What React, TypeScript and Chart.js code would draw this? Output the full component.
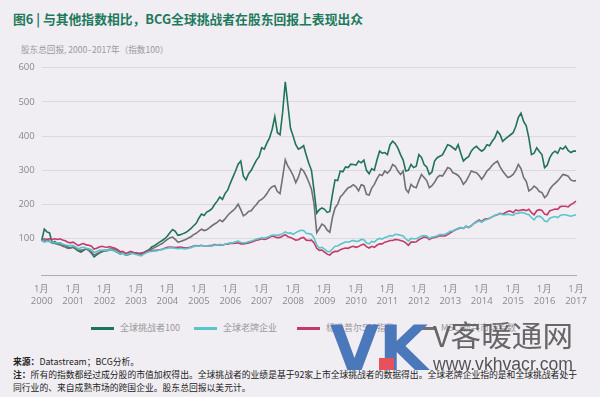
import React, { useEffect, useRef } from 'react';
import { Chart, registerables } from 'chart.js';

Chart.register(...registerables);

// ---------- data (monthly, Jan 2000 .. Jan 2017) ----------
const years = [2000, 2001, 2002, 2003, 2004, 2005, 2006, 2007, 2008, 2009, 2010, 2011, 2012, 2013, 2014, 2015, 2016, 2017];
const monthTickLabel = '1月';
const yTickValues = [100, 200, 300, 400, 500, 600];

const challengers = [
  95, 128, 120, 117, 88, 92, 86, 88, 82, 80, 76, 73,
  75, 70, 64, 61, 66, 71, 66, 58, 47, 53, 58, 62,
  64, 65, 67, 67, 64, 60, 55, 58, 52, 53, 57, 58,
  59, 57, 58, 60, 64, 68, 76, 80, 85, 90, 95, 100,
  108, 118, 127, 122, 110, 112, 115, 118, 124, 130, 138, 145,
  160, 172, 168, 178, 182, 188, 200, 210, 222, 215, 232, 242,
  262, 280, 298, 318, 327, 283, 272, 290, 300, 315, 330, 340,
  366, 362, 380, 395, 420, 457, 410, 404, 470, 559, 491, 423,
  400, 375, 362, 366, 372, 345, 320, 300, 240, 175, 185, 190,
  186, 177, 180, 230, 272, 270, 298, 296, 310, 308, 318, 317,
  315, 327, 322, 330, 300, 290, 305, 300, 330, 356, 350, 352,
  346, 375, 385, 378, 365, 346, 330, 298, 300, 317, 308, 312,
  346, 338, 317, 310, 288, 295, 327, 337, 341, 345, 360, 375,
  372, 366, 360, 375, 350, 327, 335, 340, 356, 365, 370, 362,
  356, 362, 375, 372, 385, 395, 414, 405, 385, 392, 398, 404,
  410, 428, 455, 467, 443, 430, 395, 346, 350, 366, 355, 346,
  308, 315, 337, 350, 356, 350, 366, 362, 370, 358, 352, 356,
  356,
];

const incumbents = [
  95, 90, 93, 92, 90, 89, 88, 88, 84, 82, 80, 80,
  80, 76, 70, 74, 75, 72, 71, 68, 60, 63, 66, 67,
  66, 66, 68, 66, 65, 61, 56, 58, 52, 55, 58, 56,
  54, 52, 50, 55, 59, 62, 63, 64, 65, 67, 69, 71,
  72, 74, 73, 72, 71, 72, 71, 70, 72, 74, 77, 79,
  78, 80, 79, 78, 79, 79, 81, 82, 84, 82, 84, 86,
  88, 88, 91, 93, 89, 88, 89, 91, 93, 96, 99, 101,
  103, 102, 104, 107, 111, 111, 110, 112, 115, 120, 116, 117,
  113, 118, 122, 125, 124, 116, 115, 113, 102, 82, 73, 75,
  70, 63, 62, 70, 78, 79, 84, 87, 91, 90, 93, 95,
  92, 93, 98, 97, 88, 85, 92, 90, 97, 101, 99, 104,
  106, 109, 108, 113, 112, 110, 108, 100, 93, 101, 100, 100,
  104, 108, 109, 108, 101, 105, 106, 109, 112, 112, 113, 117,
  122, 123, 127, 131, 133, 130, 136, 133, 138, 144, 148, 152,
  148, 154, 156, 160, 164, 168, 171, 174, 170, 170, 172, 170,
  168, 174, 175, 177, 176, 172, 170, 162, 155, 165, 166, 162,
  152, 150, 160, 163, 165, 162, 168, 170, 170, 168, 166, 168,
  170,
];

const sp500 = [
  95, 92, 98, 100, 98, 100, 98, 100, 96, 94, 90, 88,
  90, 85, 80, 84, 86, 82, 81, 78, 70, 72, 76, 78,
  76, 75, 77, 74, 72, 68, 62, 63, 57, 60, 63, 60,
  58, 57, 57, 60, 63, 64, 65, 66, 66, 68, 69, 72,
  75, 76, 75, 74, 75, 76, 74, 73, 74, 76, 79, 80,
  79, 81, 79, 78, 80, 80, 83, 82, 82, 81, 84, 84,
  86, 86, 87, 88, 85, 85, 86, 88, 90, 93, 96, 97,
  100, 98, 100, 104, 108, 106, 103, 104, 108, 112, 106, 104,
  100, 96, 97, 102, 104, 96, 95, 96, 88, 72, 66, 67,
  61, 55, 52, 60, 63, 63, 68, 71, 73, 72, 76, 78,
  75, 77, 82, 84, 77, 73, 78, 75, 81, 85, 85, 90,
  92, 95, 95, 98, 97, 95, 93, 88, 81, 90, 90, 91,
  97, 101, 105, 104, 98, 102, 104, 106, 109, 108, 108, 112,
  117, 122, 126, 129, 132, 130, 137, 133, 138, 145, 150, 155,
  150, 157, 158, 160, 164, 168, 170, 174, 172, 176, 180, 181,
  176, 184, 182, 184, 185, 182, 186, 176, 170, 182, 185, 183,
  172, 170, 182, 184, 187, 186, 194, 195, 195, 193, 200, 204,
  210,
];

const msciEm = [
  95, 100, 98, 92, 88, 86, 84, 82, 78, 76, 72, 73,
  76, 72, 68, 66, 68, 70, 66, 62, 52, 56, 60, 64,
  66, 67, 70, 70, 68, 64, 58, 60, 55, 56, 60, 60,
  58, 56, 55, 58, 62, 66, 70, 74, 78, 82, 86, 92,
  98, 103, 105, 98, 90, 92, 95, 98, 102, 106, 112, 116,
  122, 128, 124, 126, 132, 138, 143, 148, 155, 150, 158, 168,
  176, 182, 190, 201, 185, 167, 172, 180, 182, 192, 200, 211,
  215, 222, 232, 245, 252, 255, 238, 232, 280, 331, 312, 300,
  285, 264, 280, 305, 298, 283, 265, 245, 201, 118, 130, 143,
  138, 125, 119, 162, 190, 201, 222, 230, 240, 249, 252, 258,
  252, 240, 258, 255, 230, 228, 248, 259, 275, 288, 285, 298,
  292, 300, 317, 312, 298, 288, 298, 245, 235, 259, 252, 249,
  270, 288, 279, 270, 249, 255, 265, 279, 285, 283, 295, 308,
  305, 293, 290, 285, 275, 259, 268, 282, 298, 295, 293, 285,
  274, 285, 298, 305, 315, 322, 327, 310, 298, 288, 279, 282,
  288, 300, 317, 305, 279, 268, 240, 245, 254, 248, 238, 235,
  220, 228, 245, 255, 262, 269, 278, 288, 286, 283, 272, 269,
  270,
];

const seriesNames = ['全球挑战者100', '全球老牌企业', '标准普尔500指数', 'MSCI新兴市场指数'];
const seriesColors = ['#1f7357', '#58c6c9', '#c23a68', '#727074'];

const titleText = '图6 | 与其他指数相比，BCG全球挑战者在股东回报上表现出众';
const subtitleText = '股东总回报, 2000–2017年（指数100）';
const sourceText = ['来源：', 'Datastream；BCG分析。'];
const noteLine1 = ['注：', '所有的指数都经过成分股的市值加权得出。全球挑战者的业绩是基于92家上市全球挑战者的数据得出。全球老牌企业指的是和全球挑战者处于'];
const noteLine2 = '同行业的、来自成熟市场的跨国企业。股东总回报以美元计。';

const BG = '#f1eef3';
const CJK = '"Noto Sans CJK SC", "Noto Sans", sans-serif';

export default function App() {
  const ref = useRef<HTMLCanvasElement>(null);

  useEffect(() => {
    const labels = challengers.map((_, i) => `${years[Math.floor(i / 12)]}-${(i % 12) + 1}`);
    const mk = (idx: number, data: number[]) => ({
      label: seriesNames[idx],
      data,
      borderColor: seriesColors[idx],
      backgroundColor: seriesColors[idx],
      borderWidth: 1.6,
      pointRadius: 0,
      tension: 0,
      fill: false,
    });
    const chart = new Chart(ref.current!, {
      type: 'line',
      data: {
        labels,
        datasets: [mk(1, incumbents), mk(2, sp500), mk(3, msciEm), mk(0, challengers)],
      },
      options: {
        animation: false,
        responsive: false,
        maintainAspectRatio: false,
        layout: { padding: { top: 10.7, right: 24, left: 0, bottom: 0 } },
        plugins: { legend: { display: false }, tooltip: { enabled: false } },
        scales: {
          x: {
            grid: { display: false, drawTicks: false },
            border: { display: true, color: '#aeabb1', width: 1 },
            ticks: {
              autoSkip: false,
              maxRotation: 0,
              minRotation: 0,
              padding: 8,
              color: '#8a888c',
              font: { family: '"Open Sans", sans-serif', size: 9.5 },
              callback: (_v: any, i: number) =>
                i % 12 === 0 ? [monthTickLabel, String(years[i / 12])] : null,
            },
            afterFit: (s: any) => {
              s.height = 44.3;
            },
          },
          y: {
            min: -8,
            max: 600,
            afterBuildTicks: (s: any) => {
              s.ticks = yTickValues.map((v) => ({ value: v }));
            },
            grid: { color: '#dcd9de', lineWidth: 1, drawTicks: false },
            border: { display: false },
            ticks: {
              padding: 7,
              color: '#8a888c',
              font: { family: '"Open Sans", sans-serif', size: 9.5 },
            },
            afterFit: (s: any) => {
              s.width = 41.7;
            },
          },
        },
      },
    });
    return () => chart.destroy();
  }, []);

  const legendPos = [
    { line: 91, text: 120 },
    { line: 194, text: 223 },
    { line: 297, text: 326 },
    { line: 412, text: 441 },
  ];

  return (
    <div
      style={{
        position: 'absolute',
        left: 0,
        top: 0,
        width: 600,
        height: 397,
        background: BG,
        overflow: 'hidden',
        fontFamily: CJK,
      }}
    >
      <div
        style={{
          position: 'absolute',
          left: 13,
          top: 9,
          height: 20,
          lineHeight: '20px',
          fontSize: 12.8,
          fontWeight: 700,
          color: '#1d7a5c',
          whiteSpace: 'nowrap',
        }}
      >
        {titleText}
      </div>
      <div
        style={{
          position: 'absolute',
          left: 21,
          top: 42,
          height: 14,
          lineHeight: '14px',
          fontSize: 8.6,
          color: '#9a989c',
          whiteSpace: 'nowrap',
        }}
      >
        {subtitleText}
      </div>
      <canvas
        ref={ref}
        width={600}
        height={265}
        style={{ position: 'absolute', left: 0, top: 55, width: 600, height: 265, display: 'block' }}
      />
      {seriesNames.map((n, i) => (
        <React.Fragment key={n}>
          <div
            style={{
              position: 'absolute',
              left: legendPos[i].line,
              top: 327,
              width: 23,
              height: 3,
              background: seriesColors[i],
            }}
          />
          <div
            style={{
              position: 'absolute',
              left: legendPos[i].text,
              top: 321,
              height: 14,
              lineHeight: '14px',
              fontSize: 9,
              color: '#9a989c',
              whiteSpace: 'nowrap',
            }}
          >
            {n}
          </div>
        </React.Fragment>
      ))}
      <div
        style={{
          position: 'absolute',
          left: 13,
          top: 355,
          fontSize: 8.8,
          lineHeight: '13px',
          color: '#222',
          whiteSpace: 'nowrap',
        }}
      >
        <div>
          <b>{sourceText[0]}</b>
          {sourceText[1]}
        </div>
        <div>
          <b>{noteLine1[0]}</b>
          {noteLine1[1]}
        </div>
        <div>{noteLine2}</div>
      </div>
      <svg
        width={600}
        height={397}
        style={{ position: 'absolute', left: 0, top: 0, pointerEvents: 'none' }}
      >
        <text
          x={330}
          y={370}
          fontFamily='"DejaVu Sans", sans-serif'
          fontWeight={700}
          fontSize={62}
          fill="#4b78ba"
          textLength={98}
          lengthAdjust="spacingAndGlyphs"
        >
          VK
        </text>
        <rect x={379} y={358} width={15} height={12} fill="#e8505b" />
        <text
          x={433}
          y={347}
          fontFamily='"Noto Sans CJK SC", sans-serif'
          fontSize={29}
          fill="#666"
          textLength={140}
          lengthAdjust="spacingAndGlyphs"
        >
          V客暖通网
        </text>
        <text
          x={433}
          y={370}
          fontFamily='"Liberation Sans", Arial, sans-serif'
          fontSize={18}
          fill="#555"
          textLength={140}
          lengthAdjust="spacingAndGlyphs"
        >
          www.vkhvacr.com
        </text>
      </svg>
    </div>
  );
}
